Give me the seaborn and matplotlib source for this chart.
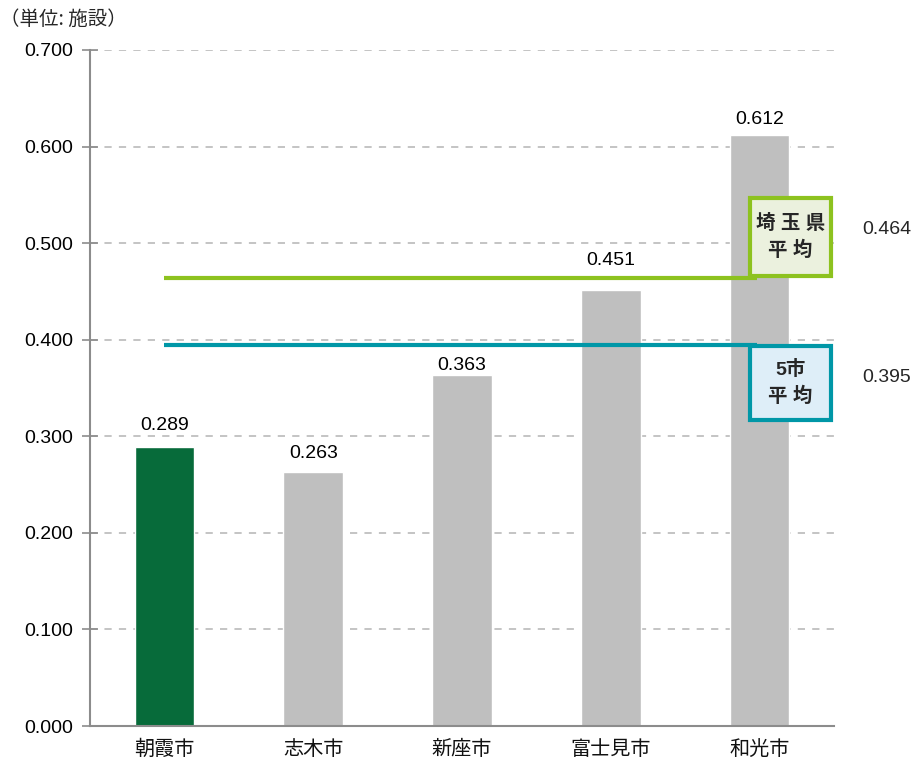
import matplotlib
matplotlib.use("Agg")
import matplotlib.pyplot as plt
import seaborn as sns
import pandas as pd
from matplotlib.patches import Rectangle

# Data
cities = ["朝霞市", "志木市", "新座市", "富士見市", "和光市"]
values = [0.289, 0.263, 0.363, 0.451, 0.612]
bar_colors = ["#076B3A", "#BFBFBF", "#BFBFBF", "#BFBFBF", "#BFBFBF"]
pref_avg = 0.464
five_avg = 0.395
yticks = [0.0, 0.1, 0.2, 0.3, 0.4, 0.5, 0.6, 0.7]

# Vertical gap between each bar top and the centre of its value label
label_gaps = [0.0226, 0.0196, 0.0107, 0.0314, 0.0164]

sns.set_theme(style="white")
plt.rcParams["font.family"] = ["Liberation Sans", "Noto Sans CJK JP", "DejaVu Sans"]

df = pd.DataFrame({"city": cities, "value": values})

fig = plt.figure(figsize=(9.15, 7.64), dpi=100)
ax = fig.add_axes([0.0984, 0.0497, 0.8131, 0.8849])

sns.barplot(data=df, x="city", y="value", hue="city", palette=bar_colors,
            width=0.40, legend=False, ax=ax, saturation=1)

ax.set_xlim(-0.5, 4.5)
ax.set_ylim(0, 0.7)
ax.set_yticks(yticks)
ax.set_yticklabels([f"{t:.3f}" for t in yticks], fontsize=14, color="#000000")
ax.set_xlabel("")
ax.set_ylabel("")

# Category labels below, ticks at the category boundaries
ax.set_xticks(range(len(cities)))
ax.set_xticklabels(cities, fontsize=14.5, family=["Noto Sans CJK JP"], color="#111111")
ax.tick_params(axis="x", length=0, pad=9)
ax.set_xticks([i - 0.5 for i in range(len(cities) + 1)], minor=True)
ax.tick_params(axis="x", which="minor", length=6, width=1.2, color="#8C8C8C", direction="out")
ax.tick_params(axis="y", length=12, width=1.2, color="#8C8C8C", direction="inout", left=True, pad=6)

# Grid
ax.yaxis.grid(True, linestyle=(0, (4, 4)), color="#BFBFBF", linewidth=1.3)
ax.set_axisbelow(True)
for s in ["top", "right"]:
    ax.spines[s].set_visible(False)
for s in ["left", "bottom"]:
    ax.spines[s].set_color("#8C8C8C")
    ax.spines[s].set_linewidth(1.5)

# Value labels
for i, (v, g) in enumerate(zip(values, label_gaps)):
    ax.text(i, v + g, f"{v:.3f}", ha="center", va="center", fontsize=14, color="#000000")

# Average lines
ax.plot([0, 3.98], [pref_avg, pref_avg], color="#8DC21F", linewidth=3, solid_capstyle="butt", zorder=3)
ax.plot([0, 3.98], [five_avg, five_avg], color="#0097A7", linewidth=3, solid_capstyle="butt", zorder=3)

# Labeled boxes
def label_box(x0, y0, x1, y1, face, edge, text):
    p = Rectangle((x0, y0), x1 - x0, y1 - y0, transform=ax.transData,
                  facecolor=face, edgecolor=edge, linewidth=3, clip_on=False, zorder=4)
    ax.add_patch(p)
    ax.text((x0 + x1) / 2, (y0 + y1) / 2, text, ha="center", va="center",
            fontsize=14, fontweight="bold", linespacing=1.5,
            family=["Liberation Sans", "Noto Sans CJK JP"], zorder=5)

label_box(3.935, 0.4655, 4.48, 0.547, "#EBF1DE", "#8DC21F", "埼 玉 県\n平 均")
label_box(3.935, 0.3165, 4.48, 0.3935, "#DEEEF8", "#0097A7", "5市\n平 均")

ax.text(4.688, 0.5145, f"{pref_avg:.3f}", ha="left", va="center", fontsize=14, clip_on=False)
ax.text(4.688, 0.361, f"{five_avg:.3f}", ha="left", va="center", fontsize=14, clip_on=False)

fig.text(0.0, 0.974, "（単位: 施設）", ha="left", va="center", fontsize=14,
         family=["Noto Sans CJK JP"])

fig.savefig("out.png", dpi=100)
